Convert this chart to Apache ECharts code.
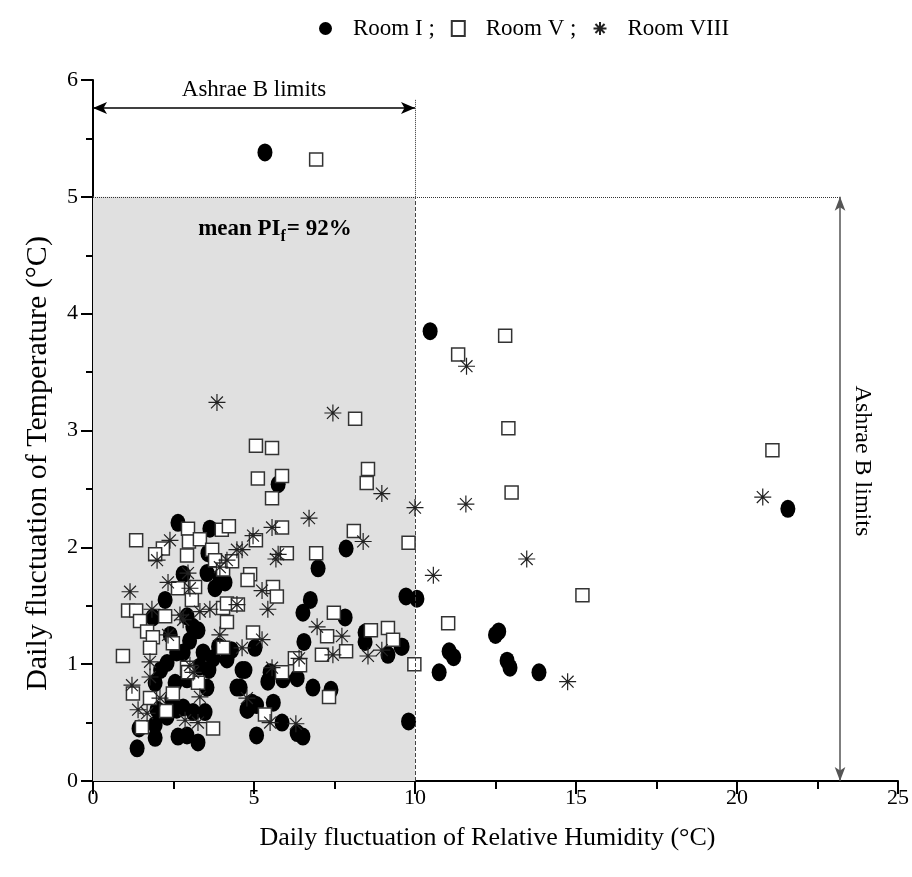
<!DOCTYPE html>
<html><head><meta charset="utf-8">
<script src="https://cdn.jsdelivr.net/npm/echarts@6/dist/echarts.min.js"></script>
<style>html,body{margin:0;padding:0;background:#fff}#c{width:912px;height:877px}</style>
</head><body><div id="c"></div>
<script>
var seriesNames = ['Room I ;', 'Room V ;', 'Room VIII'];
var roomI = [[5.34,5.38],[10.47,3.85],[21.58,2.33],[9.72,1.58],[10.06,1.56],[9.6,1.15],[12.6,1.28],[12.5,1.25],[11.06,1.11],[11.2,1.06],[12.86,1.03],[12.95,0.97],[10.75,0.93],[13.85,0.93],[9.8,0.51],
[5.75,2.54],[7.86,1.99],[6.99,1.82],[6.75,1.55],[6.52,1.44],[7.83,1.4],[6.55,1.19],[8.45,1.27],[8.45,1.19],[9.16,1.08],[9.57,1.15],[5.03,1.14],[4.72,0.95],[5.5,0.93],[5.43,0.85],[5.9,0.87],[6.34,0.88],[6.83,0.8],[7.39,0.78],[4.57,0.8],[4.8,0.61],[5.08,0.65],[5.6,0.67],[5.87,0.5],[5.08,0.39],[6.34,0.41],[6.52,0.38],
[2.64,2.21],[3.63,2.16],[3.57,1.95],[3.54,1.78],[2.8,1.77],[3.94,1.74],[2.24,1.55],[1.86,1.4],[2.6,1.1],[2.3,1.01],[3.79,1.65],[4.1,1.7],[2.92,1.41],[3.26,1.29],[3.42,1.1],[3.73,1.05],[4.16,1.04],[2.8,1.1],[3.32,0.98],[1.37,0.28],[1.93,0.37],[1.43,0.45],[1.93,0.48],[2.64,0.38],[2.3,0.55],[2.6,0.61],[1.99,0.61],[2.55,0.84],[1.93,0.84],[2.92,0.39],[3.26,0.33],[2.92,0.87],[3.54,0.8],[2.8,0.63],[3.11,0.59],[3.48,0.59],[4.47,0.8],[4.94,0.67],[4.78,0.61],[4.63,0.95],
[3.1,1.32],[3.0,1.2],[3.9,1.15],[4.3,1.12],[3.6,0.95],[2.4,1.25],[2.1,0.95],[2.45,0.7]];
var roomV = [[6.93,5.32],[12.8,3.81],[11.34,3.65],[12.9,3.02],[21.1,2.83],[13.0,2.47],[9.8,2.04],[15.2,1.59],[11.03,1.35],[9.98,1.0],
[8.14,3.1],[5.06,2.87],[5.56,2.85],[5.12,2.59],[5.87,2.61],[5.56,2.42],[8.54,2.67],[8.5,2.55],[8.1,2.14],[5.87,2.17],[5.06,2.06],[6.02,1.95],[6.93,1.95],[4.88,1.77],[5.59,1.66],[5.71,1.58],
[7.48,1.44],[7.27,1.24],[7.11,1.08],[7.86,1.11],[8.63,1.29],[9.16,1.31],[9.32,1.21],[6.27,1.05],[6.43,0.99],[5.87,0.93],[4.97,1.27],[7.33,0.72],[5.34,0.57],
[1.34,2.06],[2.17,1.99],[1.93,1.94],[2.95,2.16],[2.98,2.05],[3.32,2.07],[2.92,1.93],[3.7,1.98],[4.0,2.15],[4.22,2.18],[3.79,1.89],[4.04,1.81],[4.32,1.88],[1.09,1.46],[1.34,1.46],[1.46,1.37],[1.68,1.28],[1.86,1.23],[2.24,1.41],[2.64,1.65],[0.93,1.07],[1.77,1.14],[2.48,1.18],[3.07,1.55],[4.04,1.48],[4.16,1.52],[4.5,1.51],[4.16,1.36],[4.04,1.14],[2.92,0.97],[3.17,1.66],[4.8,1.72],[1.24,0.75],[1.77,0.71],[2.48,0.75],[2.27,0.6],[1.52,0.46],[3.26,0.84],[3.73,0.45],[2.95,0.93]];
var roomVIII = [[11.6,3.55],[20.8,2.43],[10.0,2.34],[11.58,2.37],[13.47,1.9],[10.57,1.76],[14.74,0.85],
[3.85,3.24],[7.45,3.15],[8.97,2.46],[6.71,2.25],[8.39,2.05],[5.56,2.17],[4.97,2.1],[5.75,1.94],[5.68,1.9],[5.25,1.63],[4.63,1.98],
[5.43,1.47],[6.96,1.32],[7.73,1.24],[7.45,1.08],[6.4,1.05],[8.54,1.07],[8.97,1.12],[5.25,1.21],[4.63,1.14],[5.56,0.97],[4.78,0.71],[5.5,0.5],[6.3,0.49],
[2.39,2.06],[1.99,1.89],[4.47,1.98],[4.16,1.89],[3.94,1.83],[2.95,1.78],[1.15,1.62],[1.83,1.47],[2.33,1.7],[2.33,1.25],[1.77,1.02],[2.7,1.42],[3.01,1.65],[3.32,1.45],[3.63,1.47],[4.47,1.51],[2.8,1.38],[3.94,1.25],[3.01,0.99],[1.21,0.82],[1.77,0.89],[1.4,0.61],[1.68,0.58],[2.08,0.71],[3.32,0.72],[2.86,0.52],[3.26,0.5],[3.11,0.93]];
var xTicks = [0, 5, 10, 15, 20, 25];
var yTicks = [0, 1, 2, 3, 4, 5, 6];
var limitX = 10, limitY = 5, arrowY = 5.76, rightArrowX = 23.2, dotTop = 5.83, meanText = '92%';

var FONT = '"Liberation Serif","Times New Roman",serif';
var starPath = 'path://M10,0L10,20M0,10L20,10M3,3L17,17M3,17L17,3';
var chart = echarts.init(document.getElementById('c'));
var option = {
  animation: false,
  textStyle: {fontFamily: FONT},
  grid: {left: 93, right: 12, top: 80, bottom: 96},
  legend: {
    top: 12, left: 314, itemGap: 16, itemWidth: 13, itemHeight: 15,
    textStyle: {fontFamily: FONT, fontSize: 23, color: '#000', padding: [0, 0, 0, 16]},
    data: seriesNames
  },
  xAxis: {
    type: 'value', min: xTicks[0], max: xTicks[xTicks.length - 1], interval: 5,
    name: 'Daily fluctuation of Relative Humidity (°C)', nameLocation: 'middle', nameGap: 44,
    nameTextStyle: {fontFamily: FONT, fontSize: 26, color: '#000', padding: [0, 16, 0, 0]},
    axisLine: {lineStyle: {color: '#000', width: 2}},
    axisTick: {show: true, length: 13, lineStyle: {color: '#000', width: 2}},
    minorTick: {show: true, splitNumber: 2, length: 8, lineStyle: {color: '#000', width: 2}},
    splitLine: {show: false},
    axisLabel: {fontFamily: FONT, fontSize: 22, color: '#000', margin: 6}
  },
  yAxis: {
    type: 'value', min: yTicks[0], max: yTicks[yTicks.length - 1], interval: 1,
    name: 'Daily fluctuation of Temperature (°C)', nameLocation: 'middle', nameGap: 40,
    nameTextStyle: {fontFamily: FONT, fontSize: 30, color: '#000', padding: [0, 66, 0, 0]},
    axisLine: {lineStyle: {color: '#000', width: 2}},
    axisTick: {show: true, length: 12, lineStyle: {color: '#000', width: 2}},
    minorTick: {show: true, splitNumber: 2, length: 7, lineStyle: {color: '#000', width: 2}},
    splitLine: {show: false},
    axisLabel: {fontFamily: FONT, fontSize: 22, color: '#000', margin: 15}
  },
  series: [
    {
      type: 'scatter', name: '_bg', data: [], z: 1, silent: true,
      markArea: {silent: true, itemStyle: {color: '#e0e0e0'},
        data: [[{coord: [0, 0]}, {coord: [limitX, limitY]}]]},
      markLine: {silent: true, symbol: 'none', animation: false, label: {show: false},
        data: [
          [{coord: [0, limitY], lineStyle: {type: 'dotted', color: '#333', width: 1}}, {coord: [rightArrowX, limitY]}],
          [{coord: [limitX, 0], lineStyle: {type: 'dashed', color: '#444', width: 1}}, {coord: [limitX, limitY]}],
          [{coord: [limitX, limitY], lineStyle: {type: 'dotted', color: '#333', width: 1}}, {coord: [limitX, dotTop]}],
          [{coord: [0, arrowY], symbol: 'arrow', symbolSize: [9, 14], lineStyle: {type: 'solid', color: '#000', width: 1.5}}, {coord: [limitX, arrowY], symbol: 'arrow', symbolSize: [9, 14]}],
          [{coord: [rightArrowX, limitY], symbol: 'arrow', symbolSize: [8, 14], lineStyle: {type: 'solid', color: '#555', width: 1.5}}, {coord: [rightArrowX, 0], symbol: 'arrow', symbolSize: [8, 14]}]
        ]}
    },
    {
      type: 'scatter', name: seriesNames[0], data: roomI, z: 3,
      symbol: 'circle', symbolSize: [15, 18],
      itemStyle: {color: '#000', opacity: 1}
    },
    {
      type: 'scatter', name: seriesNames[1], data: roomV, z: 4,
      symbol: 'rect', symbolSize: 13,
      itemStyle: {color: '#fff', borderColor: '#333', borderWidth: 1.5, opacity: 1}
    },
    {
      type: 'scatter', name: seriesNames[2], data: roomVIII, z: 5,
      symbol: starPath, symbolSize: 17,
      itemStyle: {color: 'rgba(0,0,0,0)', borderColor: '#222', borderWidth: 1.2, opacity: 1}
    }
  ]
};
chart.setOption(option);

var pTop = chart.convertToPixel({gridIndex: 0}, [limitX / 2, arrowY]);
var pMean = chart.convertToPixel({gridIndex: 0}, [5.65, 4.72]);
var pRight = chart.convertToPixel({gridIndex: 0}, [rightArrowX, limitY / 2]);
chart.setOption({
  graphic: [
    {type: 'text', z: 100, x: pTop[0], y: pTop[1] - 7, style: {text: 'Ashrae B limits', fontFamily: FONT, fontSize: 23, fill: '#000', align: 'center', verticalAlign: 'bottom'}},
    {type: 'text', z: 100, x: pMean[0], y: pMean[1], style: {
      text: '{a|mean PI}{b|f}{a|= ' + meanText + '}',
      align: 'center', verticalAlign: 'middle',
      rich: {a: {fontFamily: FONT, fontSize: 23, fontWeight: 'bold', fill: '#000'},
             b: {fontFamily: FONT, fontSize: 16, fontWeight: 'bold', fill: '#000', padding: [15, 1, 0, 0]}}
    }},
    {type: 'text', z: 100, x: pRight[0] + 22, y: pRight[1] - 28, rotation: -Math.PI / 2, style: {text: 'Ashrae B limits', fontFamily: FONT, fontSize: 24, fill: '#000', align: 'center', verticalAlign: 'middle'}}
  ]
});
</script></body></html>
